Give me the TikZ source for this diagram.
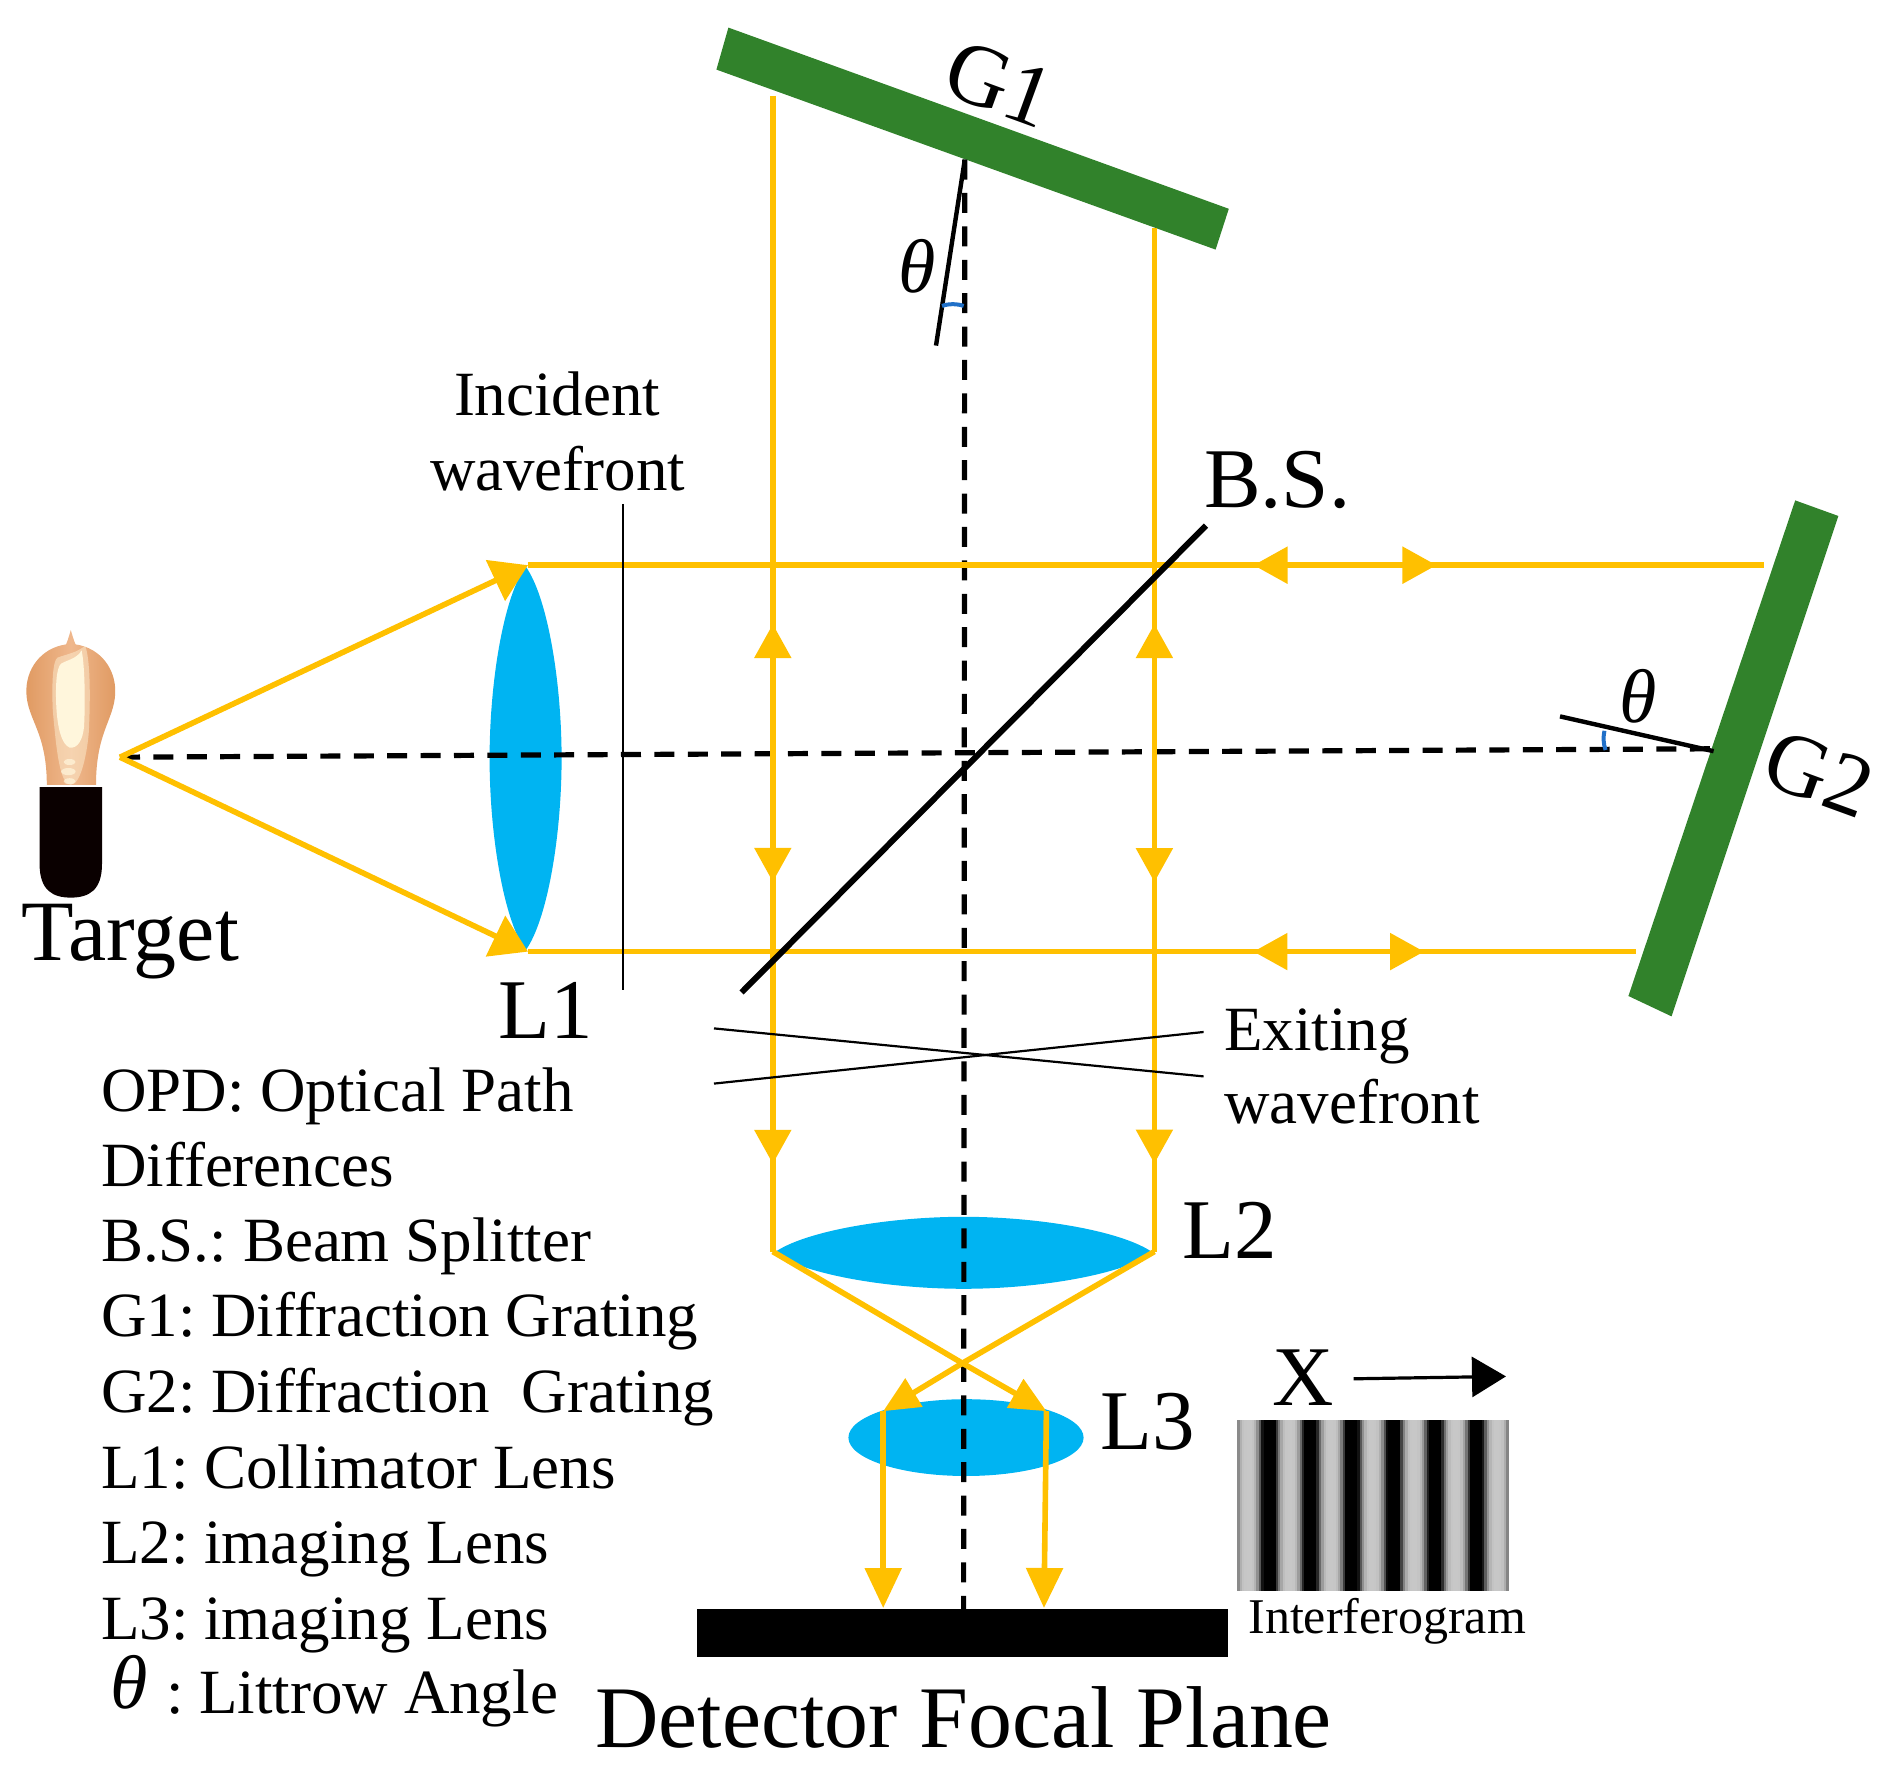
\documentclass[tikz,border=0pt]{standalone}
\usepackage{fontspec}
\setmainfont{Liberation Serif}
\usetikzlibrary{arrows.meta,decorations.markings,calc}
\definecolor{rayc}{HTML}{FFC000}
\definecolor{lensc}{HTML}{00B4F2}
\definecolor{gratc}{HTML}{31822B}
\definecolor{tickc}{HTML}{2070C8}
\definecolor{bulbedge}{HTML}{E09A62}
\definecolor{bulbmid}{HTML}{EFB78C}
\definecolor{filam}{HTML}{FFF6DC}
\newcommand{\fsz}[1]{\fontsize{#1}{#1}\selectfont}
\AtBeginDocument{\frenchspacing}
\tikzset{
  ray/.style={draw=rayc,line width=2.8pt},
  dashline/.style={draw=black,line width=2.6pt,dash pattern=on 10pt off 6.7pt},
  wave/.style={draw=black,line width=1.1pt},
  normline/.style={draw=black,line width=2.2pt},
  tick/.style={draw=tickc,line width=2pt},
  grating/.style={fill=gratc,draw=none},
  big/.style={inner sep=0pt,anchor=base west,font=\fsz{42.5}},
  small/.style={inner sep=0pt,anchor=base west,font=\fsz{31.5}},
  theta/.style={inner sep=0pt,font=\fsz{38}\itshape},
  marks/.style={postaction={decorate},decoration={markings,#1}},
  head/.tip={Triangle[length=17pt,width=18pt]},
  headL/.tip={Triangle[length=18pt,width=22pt]},
  headD/.tip={Triangle[length=20pt,width=18pt]},
  headC/.tip={Triangle[length=18pt,width=16pt]}
}
\begin{document}
\begin{tikzpicture}[x=0.6pt,y=-0.6pt]
\useasboundingbox (0,0) rectangle (1567.5,1474.2);
% key points
\coordinate (src) at (100,631);
\coordinate (L1t) at (440,471);
\coordinate (L1b) at (440,793);
\coordinate (G2t) at (1470,471);
\coordinate (G2b) at (1363,793);
\coordinate (G1l) at (644,80);
\coordinate (G1r) at (962,190);
\coordinate (L2l) at (644,1043);
\coordinate (L2r) at (962,1043);
\coordinate (foc) at (802,1136);
\coordinate (L3l) at (736,1176);
\coordinate (L3r) at (872,1176);
\coordinate (D1) at (736,1340);
\coordinate (D2) at (870,1340);
\coordinate (G1c) at (804,133);
\coordinate (G2c) at (1428,626);
\coordinate (Dc) at (803,1341);
\coordinate (axR) at (1428,624);
% gratings and detector
\fill[grating] (607,23) -- (1024,174) -- (1013,208) -- (597,58) -- cycle;
\fill[grating] (1496,417) -- (1532,430) -- (1393,847) -- (1357,830) -- cycle;
\fill[black] (581,1341) rectangle (1023,1381);
% lenses
\fill[lensc] (438,472) .. controls (420,497) and (408,567) .. (408,632) .. controls (408,697) and (420,767) .. (438,792)
  .. controls (456,767) and (468,697) .. (468,632) .. controls (468,567) and (456,497) .. (438,472) -- cycle;
\fill[lensc] (645,1044) .. controls (670,1026) and (740,1014) .. (803,1014) .. controls (866,1014) and (936,1026) .. (961,1044)
  .. controls (936,1062) and (866,1074) .. (803,1074) .. controls (740,1074) and (670,1062) .. (645,1044) -- cycle;
\fill[lensc] (805,1198) ellipse [x radius=98,y radius=32];
% bulb
\shade[left color=bulbedge,right color=bulbedge,middle color=bulbmid]
 (59,525) .. controls (61,532) and (62,535) .. (63,537) .. controls (84,540) and (97,558) .. (96,578)
 .. controls (95,600) and (80,610) .. (80,654) -- (39,654) .. controls (39,610) and (23,600) .. (22,578)
 .. controls (21,558) and (34,540) .. (55,537) .. controls (56,535) and (57,532) .. (59,525) -- cycle;
\fill[filam,opacity=.45] (71,538) .. controls (76,552) and (75,590) .. (74,610) .. controls (73,624) and (68,654) .. (59,654)
 .. controls (50,654) and (47,626) .. (44,592) .. controls (43,570) and (44,550) .. (48,548) .. controls (56,545) and (64,544) .. (71,538) -- cycle;
\fill[filam] (68,542) .. controls (71,556) and (71,590) .. (70,606) .. controls (69,616) and (65,624) .. (58,623)
 .. controls (51,620) and (48,606) .. (47,590) .. controls (46,572) and (47,556) .. (51,553) .. controls (56,550) and (64,549) .. (68,542) -- cycle;
\foreach \yy/\xx/\rr in {635/58/2.5, 643/57/3, 651/58/2.5}{
  \fill[filam,opacity=.7] (\xx,\yy) ellipse [x radius=2*\rr,y radius=\rr];
}
\fill[black!96!red] (33,656) -- (85,656) -- (85,720) .. controls (85,742) and (74,748) .. (59,748) .. controls (44,748) and (33,742) .. (33,720) -- cycle;
% axes
\draw[dashline] (src) -- (axR);
\draw[dashline] (G1c) -- (Dc);
% rays
\draw[ray,-{headL}] (src) -- (L1t);
\draw[ray,-{headL}] (src) -- (L1b);
\draw[ray,marks={mark=at position .587 with {\arrowreversed{head}},
  mark=at position .735 with {\arrow{head}}}] (L1t) -- (G2t);
\draw[ray,marks={mark=at position .655 with {\arrowreversed{head}},
  mark=at position .809 with {\arrow{head}}}] (L1b) -- (G2b);
\draw[ray,marks={mark=at position .457 with {\arrowreversed{head}},
  mark=at position .680 with {\arrow{head}},
  mark=at position .924 with {\arrow{head}}}] (G1l) -- (L2l);
\draw[ray,marks={mark=at position .387 with {\arrowreversed{head}},
  mark=at position .639 with {\arrow{head}},
  mark=at position .914 with {\arrow{head}}}] (G1r) -- (L2r);
\draw[ray,-{headC}] (L2l) -- (foc) -- (L3r);
\draw[ray,-{headC}] (L2r) -- (foc) -- (L3l);
\draw[ray,-{headD}] (L3l) -- (D1);
\draw[ray,-{headD}] (L3r) -- (D2);
% beam splitter
\draw[draw=black,line width=3pt] (1005,438) -- (618,827);
% wavefronts
\draw[wave] (519,420) -- (519,825);
\draw[wave] (595,857) -- (1003,897);
\draw[wave] (595,903) -- (1003,860);
% normals
\draw[normline] (G1c) -- (780,288);
\draw[normline] (1300,597) -- (G2c);
\draw[tick] (785,255) .. controls (790,253) and (798,253) .. (803,255);
\draw[tick] (1337,609) .. controls (1336,614) and (1336,620) .. (1338,625);
% interferogram
\foreach \i in {0,...,112}{
  \pgfmathsetmacro{\xa}{1031+2*\i}
  \pgfmathsetmacro{\cc}{0.5+0.5*cos(20.81*(\i-12.7))}
  \pgfmathsetmacro{\g}{22+78*min(1,1.5*\cc*\cc)}
  \fill[black!\g!white] (\xa,1183) rectangle ++(2.4,143);
}
% X arrow
\coordinate (xa) at (1128,1149);
\coordinate (xb) at (1255,1147);
\draw[draw=black,line width=1.6pt,-{Triangle[length=17pt,width=20pt]}] (xa) -- (xb);
% labels
\node[big,font=\fsz{43}] (tTarget) at (18,800) {Target};
\node[big] (tL1) at (415,865) {L1};
\node[big] (tBS) at (1003,423) {B.S.};
\node[big] (tL2) at (985,1049) {L2};
\node[big] (tL3) at (917,1208) {L3};
\node[big] (tX) at (1060,1171) {X};
\node[big,font=\fsz{43.9}] (tDet) at (496,1456) {Detector Focal Plane};
\node[big,anchor=center,rotate=-20,font=\fsz{44}] (tG1) at (833,70) {G1};
\node[big,anchor=center,rotate=-20,font=\fsz{44}] (tG2) at (1516,645) {G2};
\node[small] (i1) at (378,346) {Incident};
\node[small] (i2) at (358,409) {wavefront};
\node[small] (e1) at (1020,875) {Exiting};
\node[small] (e2) at (1020,936) {wavefront};
\node[inner sep=0pt,anchor=base west,font=\fsz{25}] (tInt) at (1040,1361) {Interferogram};
\node[theta] (th1) at (764,222) {θ};
\node[theta] (th2) at (1365,580) {θ};
\node[theta] (th3) at (108,1402) {θ};
\node[small] (l1) at (84,926) {OPD: Optical Path};
\node[small] (l2) at (84,989) {Differences};
\node[small] (l3) at (84,1051) {B.S.: Beam Splitter};
\node[small] (l4) at (84,1114) {G1: Diffraction Grating};
\node[small] (l5) at (84,1177) {G2: Diffraction\ \ Grating};
\node[small] (l6) at (84,1240) {L1: Collimator Lens};
\node[small] (l7) at (84,1303) {L2: imaging Lens};
\node[small] (l8) at (84,1366) {L3: imaging Lens};
\node[small] (l9) at (138,1428) {: Littrow Angle};
\end{tikzpicture}
\end{document}
